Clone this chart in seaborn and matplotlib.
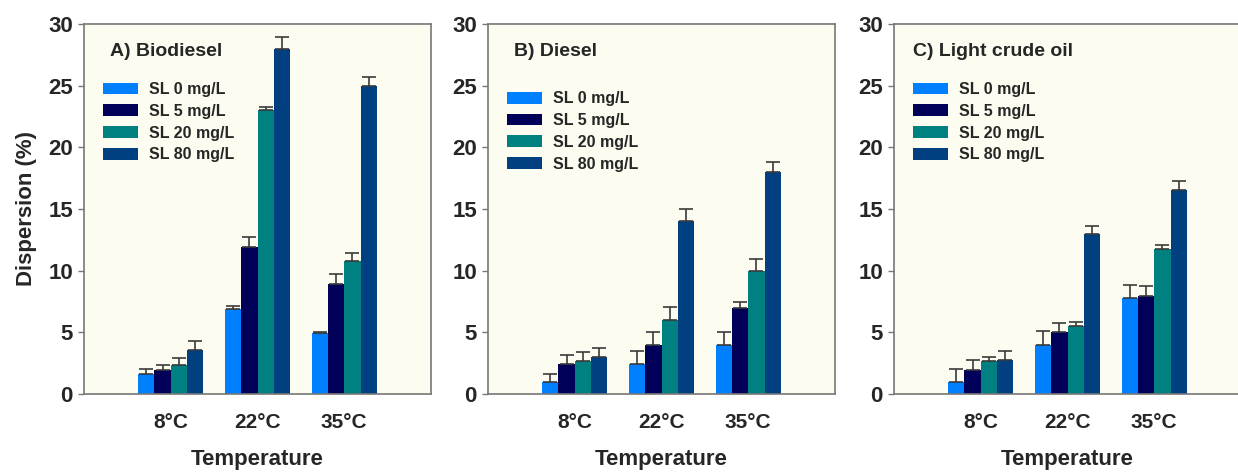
import numpy as np
import pandas as pd
import matplotlib
matplotlib.use("Agg")
import matplotlib.pyplot as plt
import seaborn as sns

# Data (mean dispersion % and upper error)
temperatures = ["8°C", "22°C", "35°C"]
concentrations = ["SL 0 mg/L", "SL 5 mg/L", "SL 20 mg/L", "SL 80 mg/L"]
panels = ["A) Biodiesel", "B) Diesel", "C) Light crude oil"]

# rows = concentration, cols = temperature
biodiesel_mean = [[1.65, 6.9, 4.95], [1.97, 11.95, 8.95], [2.38, 23.0, 10.75], [3.6, 27.95, 25.0]]
biodiesel_err = [[0.4, 0.27, 0.05], [0.4, 0.75, 0.75], [0.55, 0.3, 0.65], [0.72, 1.03, 0.7]]
diesel_mean = [[0.97, 2.46, 3.94], [2.46, 3.94, 6.97], [2.65, 5.97, 9.94], [2.97, 13.99, 17.99]]
diesel_err = [[0.65, 1.05, 1.08], [0.73, 1.08, 0.53], [0.75, 1.05, 1.0], [0.73, 1.0, 0.83]]
crude_mean = [[0.97, 3.94, 7.78], [1.97, 5.0, 7.97], [2.65, 5.48, 11.75], [2.75, 12.99, 16.55]]
crude_err = [[1.08, 1.14, 1.08], [0.78, 0.75, 0.81], [0.32, 0.32, 0.35], [0.73, 0.67, 0.73]]

means = [biodiesel_mean, diesel_mean, crude_mean]
errs = [biodiesel_err, diesel_err, crude_err]

colors = ["#0080ff", "#000058", "#008080", "#004080"]
bg = "#fcfcf0"
spine_col = "#777777"

rows = []
for p, name in enumerate(panels):
    for c, conc in enumerate(concentrations):
        for t, temp in enumerate(temperatures):
            rows.append({"panel": name, "Temperature": temp, "conc": conc,
                         "value": means[p][c][t], "err": errs[p][c][t]})
df = pd.DataFrame(rows)

sns.set_style("white")
plt.rcParams["font.family"] = ["Liberation Sans", "DejaVu Sans"]
plt.rcParams["font.weight"] = "bold"

fig = plt.figure(figsize=(12.38, 4.72), dpi=100)
lefts = [84, 488, 894]
legend_tops = [0.86, 0.835, 0.86]
title_x = [0.075, 0.075, 0.055]

for i, name in enumerate(panels):
    ax = fig.add_axes([lefts[i] / 1238, 1 - 394 / 472, 347 / 1238, 370 / 472])
    ax.set_facecolor(bg)
    sub = df[df["panel"] == name]
    sns.barplot(data=sub, x="Temperature", y="value", hue="conc",
                order=temperatures, hue_order=concentrations,
                palette=colors, width=0.75, gap=0, errorbar=None,
                saturation=1, linewidth=0, ax=ax)
    # upper-only error bars placed on the seaborn bars
    for c, conc in enumerate(concentrations):
        cont = ax.containers[c]
        e = sub[sub["conc"] == conc].set_index("Temperature").loc[temperatures, "err"].values
        for bar, ev in zip(cont, e):
            xc = bar.get_x() + bar.get_width() / 2
            h = bar.get_height()
            ax.errorbar(xc, h, yerr=[[0], [ev]], fmt="none", ecolor="#3a3a3a",
                        elinewidth=1.2, capsize=5, capthick=1.2, zorder=1)
    ax.set_xlim(-1, 3)
    ax.set_ylim(0, 30)
    ax.set_yticks([0, 5, 10, 15, 20, 25, 30])
    ax.tick_params(axis="y", which="both", left=True, length=4, width=1,
                   color=spine_col, labelsize=16, pad=4)
    ax.tick_params(axis="x", bottom=False, labelsize=15, pad=10)
    for lab in ax.get_xticklabels() + ax.get_yticklabels():
        lab.set_fontweight("bold")
    for s in ax.spines.values():
        s.set_color(spine_col)
        s.set_linewidth(1.2)
    ax.set_xlabel("Temperature", fontsize=16, fontweight="bold")
    ax.xaxis.set_label_coords(0.5, -0.15)
    if i == 0:
        ax.set_ylabel("Dispersion (%)", fontsize=16, fontweight="bold", labelpad=8)
    else:
        ax.set_ylabel("")
    ax.text(title_x[i], 0.927, name, transform=ax.transAxes, fontsize=14,
            fontweight="bold", va="center", ha="left")
    handles, labels = ax.get_legend_handles_labels()
    ax.legend(handles, labels, loc="upper left", bbox_to_anchor=(0.035, legend_tops[i]),
              frameon=False, handlelength=2.2, handleheight=0.75,
              labelspacing=0.42, handletextpad=0.7, borderaxespad=0,
              prop={"weight": "bold", "size": 11.5})

fig.savefig("out.png", dpi=100, facecolor="white")
